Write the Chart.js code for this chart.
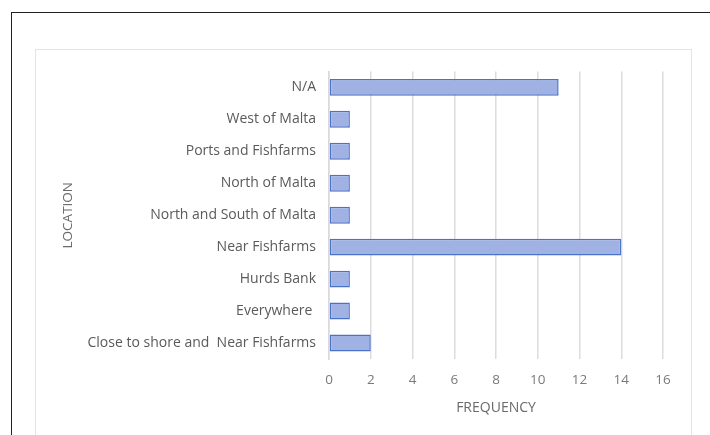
<!DOCTYPE html>
<html lang="en">
<head>
  <meta charset="UTF-8">
  <title>Location frequency</title>
  <script src="https://cdn.jsdelivr.net/npm/chart.js"></script>
  <style>
    body { margin: 0; background: #fff; }
    #frame { position: absolute; left: 11px; top: 12px; width: 720px; height: 440px; border: 1.5px solid #222; }
    #box { position: absolute; left: 35px; top: 49px; width: 655px; height: 400px; border: 1px solid #e3e3e3; }
    #chart { position: absolute; left: 36px; top: 50px; }
  </style>
</head>
<body>
  <div id="frame"></div>
  <div id="box"></div>
  <canvas id="chart" width="655" height="382"></canvas>

  <script>
    const locations = [
      'N/A',
      'West of Malta',
      'Ports and Fishfarms',
      'North of Malta',
      'North and South of Malta',
      'Near Fishfarms',
      'Hurds Bank',
      'Everywhere ',
      'Close to shore and  Near Fishfarms'
    ];
    const frequency = [11, 1, 1, 1, 1, 14, 1, 1, 2];
    const freqTicks = [0, 2, 4, 6, 8, 10, 12, 14, 16];

    const ctx = document.getElementById('chart').getContext('2d');
    new Chart(ctx, {
      type: 'bar',
      data: {
        labels: locations,
        datasets: [{
          label: 'Frequency',
          data: frequency,
          backgroundColor: '#9fb2e3',
          borderColor: '#4a72c8',
          borderWidth: 1.5,
          borderSkipped: false,
          categoryPercentage: 1,
          barPercentage: 0.53
        }]
      },
      options: {
        indexAxis: 'y',
        responsive: false,
        animation: false,
        layout: { padding: { top: 18, right: 28, left: 0, bottom: 0 } },
        plugins: { legend: { display: false }, tooltip: { enabled: false } },
        scales: {
          x: {
            min: freqTicks[0],
            max: freqTicks[freqTicks.length - 1],
            afterBuildTicks: (s) => { s.ticks = freqTicks.map((v) => ({ value: v })); },
            afterFit: (s) => { s.height = 73; },
            grid: { color: '#dcdcdc', lineWidth: 1.5, drawTicks: false },
            border: { display: false },
            ticks: { color: '#7a7a7a', padding: 13, font: { family: 'Open Sans', size: 13.5 } },
            title: {
              display: true,
              text: 'FREQUENCY',
              color: '#6a6a6a',
              padding: { top: 0, bottom: 16 },
              font: { family: 'Open Sans', size: 14 }
            }
          },
          y: {
            afterFit: (s) => { s.width = 293; },
            grid: { display: false, drawTicks: false },
            border: { display: true, color: '#d9d9d9', width: 1.5 },
            ticks: { color: '#5a5a5a', padding: 13, font: { family: 'Open Sans', size: 14 } },
            title: {
              display: true,
              text: 'LOCATION',
              color: '#6a6a6a',
              padding: { top: 24, bottom: 0 },
              font: { family: 'Open Sans', size: 13.5 }
            }
          }
        }
      }
    });
  </script>
</body>
</html>
